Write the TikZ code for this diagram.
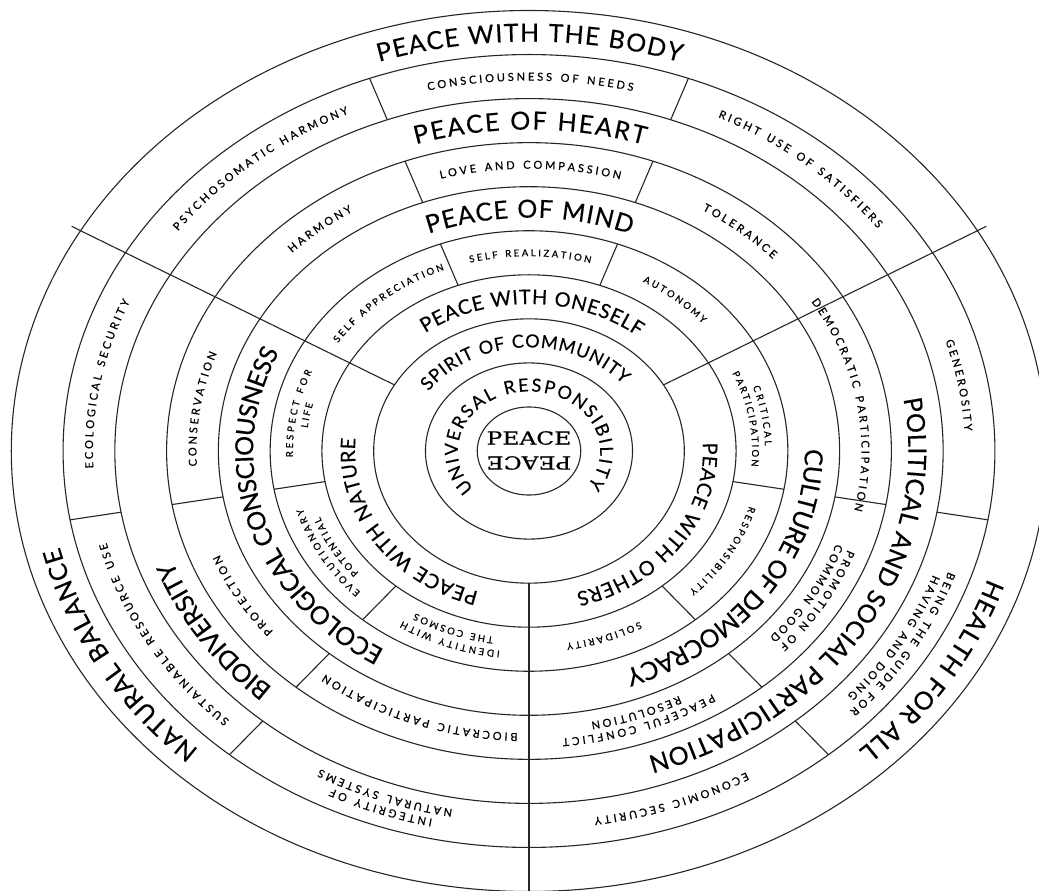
\documentclass[tikz,border=0pt]{standalone}
\usepackage{fontspec}
\setmainfont{Lato}
\newfontfamily\lato[FakeBold=0.3]{Lato}
\newfontfamily\latos[FakeBold=0.6]{Lato}
\newfontfamily\dvs[FakeBold=0.6]{DejaVu Serif}
\usetikzlibrary{decorations.text}

\def\ra{51.77}
\def\rb{44.05}
\def\fB{\lato\fontsize{25}{25}\selectfont\kern1.5pt}
\def\fBw{\lato\fontsize{25}{25}\selectfont\kern2.3pt}
\def\fBm{\lato\fontsize{25}{25}\selectfont\kern0.8pt}
\def\fBn{\lato\fontsize{25}{25}\selectfont\kern0pt}
\def\fM{\lato\fontsize{20}{20}\selectfont\kern1.2pt}
\def\fC{\lato\fontsize{18}{18}\selectfont\kern1.5pt}
\def\fU{\lato\fontsize{18}{18}\selectfont\kern3.2pt}
\def\fS{\latos\fontsize{11}{11}\selectfont\kern2.9pt}
\def\fT{\latos\fontsize{9.5}{9.5}\selectfont\kern2.6pt}

% #1 ring mid index, #2 centre angle, #3 half span, #4 raise, #5 font, #6 text
\newcommand{\ctext}[6]{%
  \path[decorate,decoration={text along path,text align=center,raise=#4,
    text={|#5|#6}}]
    ({\ra*(#1)*cos((#2)+(#3))},{\rb*(#1)*sin((#2)+(#3))})
    arc[start angle={(#2)+(#3)}, end angle={(#2)-(#3)},
        x radius={\ra*(#1)}, y radius={\rb*(#1)}];}

\tikzset{ln/.style={draw=black!85, line width=1.1pt}}

\begin{document}
\begin{tikzpicture}[x=1pt,y=1pt]
\useasboundingbox (-529,451) rectangle (510,-440);
\fill[white] (-529,451) rectangle (510,-440);
\clip (-529,451) rectangle (510,-440);

% rings
\foreach \k in {1,...,10}
  \draw[ln] (0,0) ellipse[x radius={\ra*\k}, y radius={\rb*\k}];
% sector dividers
\foreach \t in {30,150,270}
  \draw[ln] ({\ra*3*cos(\t)},{\rb*3*sin(\t)}) -- ({\ra*10.2*cos(\t)},{\rb*10.2*sin(\t)});
% cell dividers
\foreach \t in {70,110,190,230,310,350}
  \foreach \k in {4,6,8}
    \draw[ln] ({\ra*\k*cos(\t)},{\rb*\k*sin(\t)}) -- ({\ra*(\k+1)*cos(\t)},{\rb*(\k+1)*sin(\t)});

% centre
\node[font=\dvs\fontsize{18}{18}\selectfont, inner sep=0pt] (pu) at (0,13) {\scalebox{1.3}[1]{PEACE}};
\node[font=\dvs\fontsize{18}{18}\selectfont, inner sep=0pt, rotate=180] (pd) at (0,-12) {\scalebox{1.3}[1]{PEACE}};

% inner rings
\ctext{1.5}{93}{165}{-6.5pt}{\fU}{UNIVERSAL RESPONSIBILITY}
\ctext{2.5}{93}{100}{-6.5pt}{\fC}{SPIRIT OF COMMUNITY}

% ring 3.5
\ctext{3.5}{89}{58}{-7.2pt}{\fM}{PEACE WITH ONESELF}
\ctext{3.5}{213}{58}{-7.2pt}{\fM}{PEACE WITH NATURE}
\ctext{3.5}{-34}{58}{-7.2pt}{\fM}{PEACE WITH OTHERS}

% ring 4.5
\ctext{4.5}{130}{30}{-3.4pt}{\fT}{SELF APPRECIATION}
\ctext{4.5}{90}{30}{-3.4pt}{\fT}{SELF REALIZATION}
\ctext{4.5}{50}{30}{-3.4pt}{\fT}{AUTONOMY}
\ctext{4.5}{170}{30}{3.1pt}{\fT}{RESPECT FOR}
\ctext{4.5}{170}{30}{-9.9pt}{\fT}{LIFE}
\ctext{4.5}{210}{30}{3.1pt}{\fT}{EVOLUTIONARY}
\ctext{4.5}{210}{30}{-9.9pt}{\fT}{POTENTIAL}
\ctext{4.5}{250}{30}{3.1pt}{\fT}{IDENTITY WITH}
\ctext{4.5}{250}{30}{-9.9pt}{\fT}{THE COSMOS}
\ctext{4.5}{10}{30}{3.1pt}{\fT}{CRITICAL}
\ctext{4.5}{10}{30}{-9.9pt}{\fT}{PARTICIPATION}
\ctext{4.5}{-30}{30}{-3.4pt}{\fT}{RESPONSIBILITY}
\ctext{4.5}{-70}{30}{-3.4pt}{\fT}{SOLIDARITY}

% ring 5.5
\ctext{5.5}{90}{58}{-9pt}{\fB}{PEACE OF MIND}
\ctext{5.5}{196}{58}{-9pt}{\fBn}{ECOLOGICAL CONSCIOUSNESS}
\ctext{5.5}{-33}{58}{-9pt}{\fBn}{CULTURE OF DEMOCRACY}

% ring 6.5
\ctext{6.5}{130}{30}{-4pt}{\fS}{HARMONY}
\ctext{6.5}{90}{30}{-4pt}{\fS}{LOVE AND COMPASSION}
\ctext{6.5}{50}{30}{-4pt}{\fS}{TOLERANCE}
\ctext{6.5}{172}{30}{-4pt}{\fS}{CONSERVATION}
\ctext{6.5}{210}{30}{-4pt}{\fS}{PROTECTION}
\ctext{6.5}{250}{30}{-4pt}{\fS}{BIOCRATIC PARTICIPATION}
\ctext{6.5}{10}{30}{-4pt}{\fS}{DEMOCRATIC PARTICIPATION}
\ctext{6.5}{-30}{30}{2.5pt}{\fS}{PROMOTION OF}
\ctext{6.5}{-30}{30}{-10.5pt}{\fS}{COMMON GOOD}
\ctext{6.5}{-70}{30}{2.5pt}{\fS}{PEACEFUL CONFLICT}
\ctext{6.5}{-70}{30}{-10.5pt}{\fS}{RESOLUTION}

% ring 7.5
\ctext{7.5}{90}{58}{-9pt}{\fBw}{PEACE OF HEART}
\ctext{7.5}{211}{58}{-9pt}{\fBn}{BIODIVERSITY}
\ctext{7.5}{-30}{58}{-9pt}{\fBm}{POLITICAL AND SOCIAL PARTICIPATION}

% ring 8.5
\ctext{8.5}{130}{30}{-4pt}{\fS}{PSYCHOSOMATIC HARMONY}
\ctext{8.5}{90}{30}{-4pt}{\fS}{CONSCIOUSNESS OF NEEDS}
\ctext{8.5}{50}{30}{-4pt}{\fS}{RIGHT USE OF SATISFIERS}
\ctext{8.5}{170}{30}{-4pt}{\fS}{ECOLOGICAL SECURITY}
\ctext{8.5}{210}{30}{-4pt}{\fS}{SUSTAINABLE RESOURCE USE}
\ctext{8.5}{250}{30}{2.5pt}{\fS}{INTEGRITY OF}
\ctext{8.5}{250}{30}{-10.5pt}{\fS}{NATURAL SYSTEMS}
\ctext{8.5}{10}{30}{-4pt}{\fS}{GENEROSITY}
\ctext{8.5}{-30}{30}{2.5pt}{\fS}{BEING THE GUIDE FOR}
\ctext{8.5}{-30}{30}{-10.5pt}{\fS}{HAVING AND DOING}
\ctext{8.5}{-70}{30}{-4pt}{\fS}{ECONOMIC SECURITY}

% ring 9.5
\ctext{9.5}{90}{55}{-9pt}{\fB}{PEACE WITH THE BODY}
\ctext{9.5}{208}{55}{-9pt}{\fB}{NATURAL BALANCE}
\ctext{9.5}{-30}{55}{-9pt}{\fB}{HEALTH FOR ALL}
\end{tikzpicture}
\end{document}
